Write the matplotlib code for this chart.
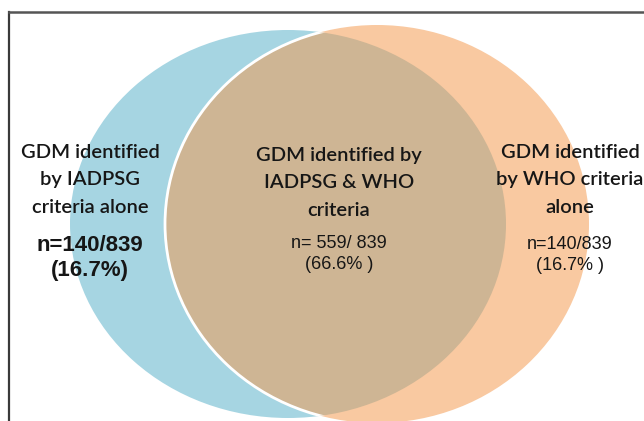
import matplotlib.pyplot as plt
from matplotlib.patches import Ellipse

# data
group_labels = ["GDM identified\nby IADPSG\ncriteria alone",
                "GDM identified by\nIADPSG & WHO\ncriteria",
                "GDM identified\nby WHO criteria\nalone"]
counts = [140, 559, 140]
total = 839
percents = [16.7, 66.6, 16.7]

blue = "#a6d5e2"
orange = "#f9c9a1"
overlap = "#ceb594"

fig = plt.figure(figsize=(6.44, 4.21), dpi=100)
ax = fig.add_axes([0, 0, 1, 1])
ax.set_xlim(0, 644)
ax.set_ylim(421, 0)
ax.axis("off")

# venn circles (pixel layout)
left = Ellipse((288, 224), 436, 388, facecolor=blue, edgecolor="none", zorder=1)
right = Ellipse((377, 224), 424, 398, facecolor=orange, edgecolor="none", zorder=1)
ax.add_patch(left)
ax.add_patch(right)
mid = Ellipse((377, 224), 424, 398, facecolor=overlap, edgecolor="white", lw=2, zorder=2)
ax.add_patch(mid)
mid.set_clip_path(left)

# frame
ax.plot([9, 9], [421, 12], color="#3a3a3a", lw=1.6, solid_capstyle="projecting", zorder=5)
ax.plot([9, 644], [12, 12], color="#555555", lw=1.8, solid_capstyle="projecting", zorder=5)

head_font = ["Lato", "DejaVu Sans"]
num_font = ["Liberation Sans Narrow", "Liberation Sans", "DejaVu Sans"]
ink = "#161616"

xs = [90, 339, 570]
ax.text(xs[0], 180, group_labels[0], ha="center", va="center", fontsize=14.5,
        family=head_font, fontweight="semibold", linespacing=1.78, color=ink, zorder=6)
ax.text(xs[1], 183, group_labels[1], ha="center", va="center", fontsize=14.5,
        family=head_font, fontweight="semibold", linespacing=1.78, color=ink, zorder=6)
ax.text(xs[2], 180, group_labels[2], ha="center", va="center", fontsize=14.5,
        family=head_font, fontweight="semibold", linespacing=1.78, color=ink, zorder=6)

ax.text(xs[0], 258, "n=%d/%d\n(%.1f%%)" % (counts[0], total, percents[0]),
        ha="center", va="center", fontsize=16, fontweight="bold",
        family=num_font, linespacing=1.3, color=ink, zorder=6)
ax.text(xs[1], 254, "n= %d/ %d\n(%.1f%% )" % (counts[1], total, percents[1]),
        ha="center", va="center", fontsize=13,
        family=num_font, linespacing=1.25, color=ink, zorder=6)
ax.text(xs[2], 255, "n=%d/%d\n(%.1f%% )" % (counts[2], total, percents[2]),
        ha="center", va="center", fontsize=13,
        family=num_font, linespacing=1.35, color=ink, zorder=6)

fig.savefig("out.png", dpi=100, facecolor="white")
